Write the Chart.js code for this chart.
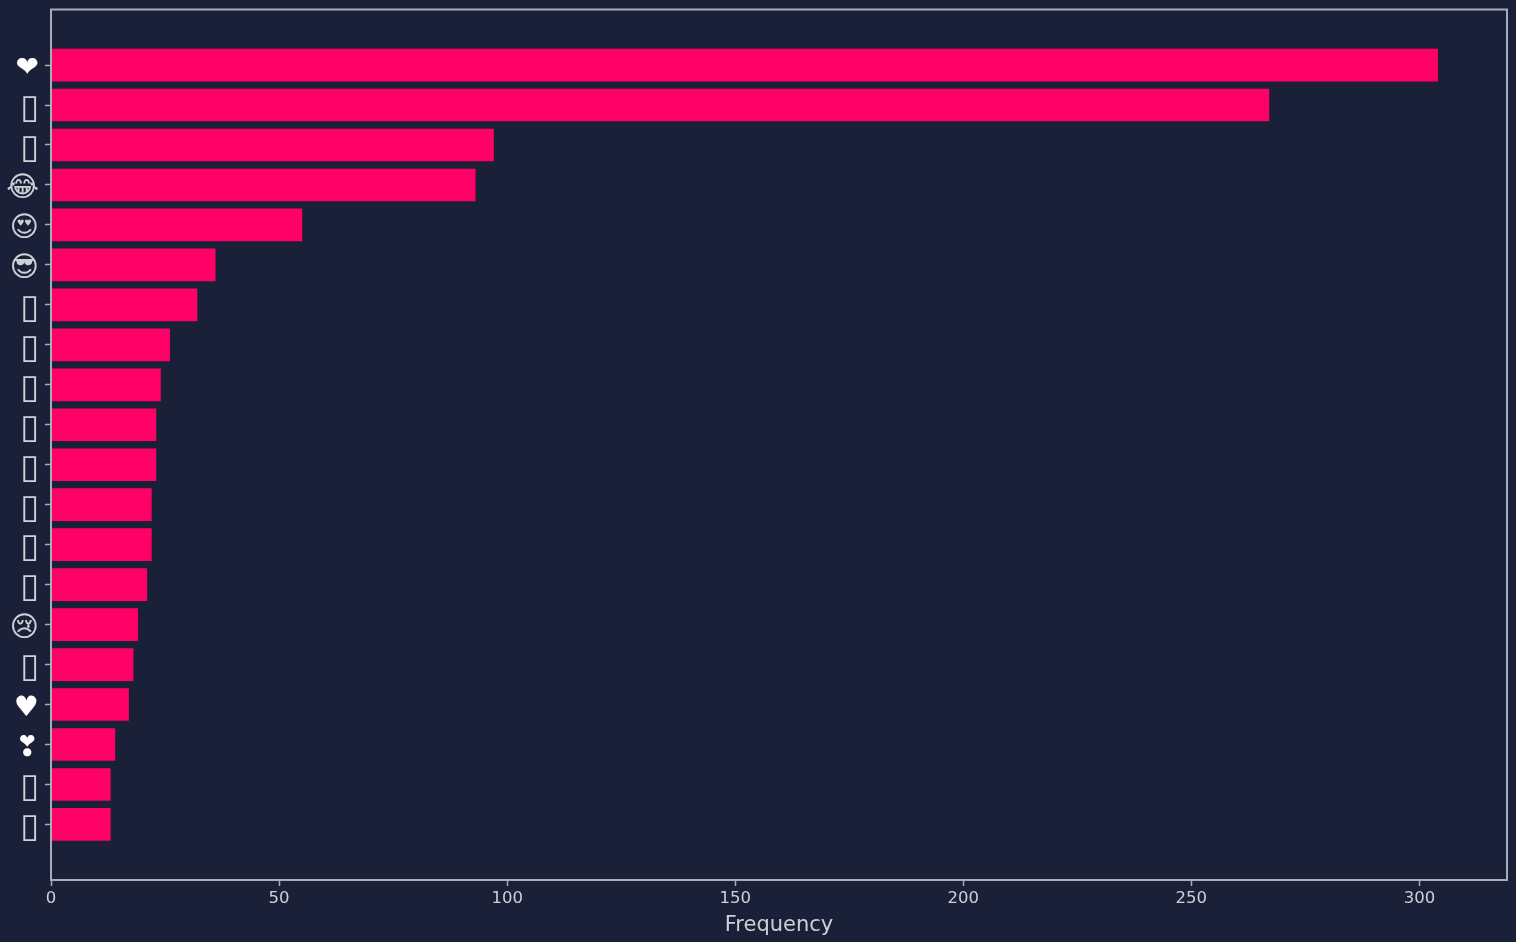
<!DOCTYPE html>
<html>
<head>
<meta charset="utf-8">
<style>
    html, body { margin: 0; padding: 0; background: #1b2039; }
    canvas { display: block; }
</style>
<script src="https://cdn.jsdelivr.net/npm/chart.js@4"></script>
</head>
<body>
<canvas id="barChart" width="1516" height="942"></canvas>
<script>
// emoji the source font could not draw show up as an empty box
const box = "\u25AF";
const categories = ["\u2764", box, box, "\u{1F602}", "\u{1F60D}", "\u{1F60E}", box, box, box, box,
    box, box, box, box, "\u{1F622}", box, "\u2665", "\u2763", box, box];
const frequency = [304, 267, 97, 93, 55, 36, 32, 26, 24, 23, 23, 22, 22, 21, 19, 18, 17, 14, 13, 13];
const xTickStep = 50;
const solidGlyphs = ["\u2764", "\u2665", "\u2763"];

const barColor = "#ff0066";
const textColor = "#cfd0d6";
const lineColor = "#a9acb8";
const fontName = "'DejaVu Sans'";

// top and right spines
const frame = {
    id: "frame",
    afterDatasetsDraw(chart) {
        const {ctx, chartArea} = chart;
        ctx.save();
        ctx.strokeStyle = lineColor;
        ctx.lineWidth = 2;
        ctx.strokeRect(chartArea.left, chartArea.top, chartArea.right - chartArea.left, chartArea.bottom - chartArea.top);
        ctx.restore();
    },
};

Chart.defaults.animation = false;

new Chart(document.getElementById("barChart"), {
    type: "bar",
    data: {
        datasets: [
            {
                label: "Frequency",
                data: frequency.map((v, i) => ({x: v, y: i})),
                backgroundColor: barColor,
                barThickness: 32,
            },
        ],
    },
    options: {
        indexAxis: "y",
        responsive: false,
        layout: {
            padding: {top: 9.5, right: 9, left: 0, bottom: 0},
        },
        plugins: {
            legend: {display: false},
            tooltip: {enabled: false},
        },
        scales: {
            x: {
                type: "linear",
                min: 0,
                max: 319.2,
                afterFit: (scale) => {
                    scale.height = 62;
                    scale.paddingLeft = 0;
                    scale.paddingRight = 0;
                },
                grid: {drawOnChartArea: false, tickLength: 6, tickColor: lineColor, tickWidth: 1.5},
                border: {color: lineColor, width: 2},
                title: {
                    display: true,
                    text: "Frequency",
                    color: textColor,
                    font: {family: fontName, size: 21},
                    padding: {top: 3, bottom: 3.5},
                },
                ticks: {
                    stepSize: xTickStep,
                    includeBounds: false,
                    maxRotation: 0,
                    color: textColor,
                    padding: 3,
                    font: {family: fontName, size: 16.5},
                },
            },
            y: {
                type: "linear",
                offset: false,
                reverse: true,
                min: -1.39,
                max: 20.39,
                afterFit: (scale) => {
                    scale.width = 51;
                    scale.paddingTop = 0;
                    scale.paddingBottom = 0;
                },
                afterBuildTicks: (scale) => {
                    scale.ticks = categories.map((c, i) => ({value: i}));
                },
                grid: {offset: false, drawOnChartArea: false, tickLength: 6, tickColor: lineColor, tickWidth: 1.5},
                border: {color: lineColor, width: 2},
                ticks: {
                    autoSkip: false,
                    color: (c) => solidGlyphs.includes(categories[c.index]) ? "#ffffff" : textColor,
                    padding: 6,
                    labelOffset: 4,
                    font: (c) => ({family: fontName, size: categories[c.index] === box ? 34 : 28}),
                    callback: (value) => categories[value],
                },
            },
        },
    },
    plugins: [frame],
});
</script>
</body>
</html>
